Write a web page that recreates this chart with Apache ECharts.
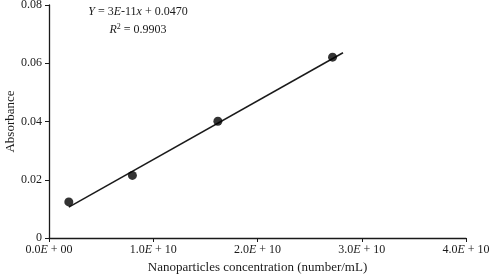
<!DOCTYPE html>
<html>
<head>
<meta charset="utf-8">
<script src="https://cdn.jsdelivr.net/npm/echarts@6/dist/echarts.min.js"></script>
<style>
  html, body { margin: 0; padding: 0; background: #fff; }
  #chart { width: 489px; height: 276px; }
</style>
</head>
<body>
<div id="chart"></div>
<script>
// 吸光度 vs 纳米颗粒浓度：散点 + 线性拟合线
const concentration = [1.9e9, 8.0e9, 1.62e10, 2.72e10]
const absorbance = [0.0124, 0.0215, 0.0401, 0.0621]
// 拟合线两端
const fitX = [1.9e9, 2.82e10]
const fitY = [0.0106, 0.0636]
const xTickLabels = ['0.0|00', '1.0|10', '2.0|10', '3.0|10', '4.0|10']

const FONT = '"Liberation Serif", "Times New Roman", serif'
const INK = '#1a1a1a'

const chart = echarts.init(document.getElementById('chart'), null, { renderer: 'canvas' })

chart.setOption({
  backgroundColor: '#fff',
  animation: false,
  grid: { left: 49, right: 23, top: 5, bottom: 38, outerBoundsMode: 'none', containLabel: false },
  xAxis: {
    type: 'value',
    min: 0,
    max: 4e10,
    interval: 1e10,
    name: 'Nanoparticles concentration (number/mL)',
    nameLocation: 'middle',
    nameGap: 23,
    nameMoveOverlap: false,
    nameTextStyle: { fontFamily: FONT, fontSize: 13, color: INK },
    axisLine: { lineStyle: { color: INK, width: 1.3 } },
    axisTick: { show: true, length: 4, lineStyle: { color: INK } },
    splitLine: { show: false },
    axisLabel: {
      margin: 6,
      formatter: (v) => {
        const [m, e] = xTickLabels[Math.round(v / 1e10)].split('|')
        return m + '{i|E} + ' + e
      },
      fontFamily: FONT,
      fontSize: 12,
      color: INK,
      rich: { i: { fontStyle: 'italic', fontFamily: FONT, fontSize: 12, color: INK } },
    },
  },
  yAxis: {
    type: 'value',
    min: 0,
    max: 0.08,
    interval: 0.02,
    name: 'Absorbance',
    nameLocation: 'middle',
    nameGap: 32,
    nameMoveOverlap: false,
    nameTextStyle: { fontFamily: FONT, fontSize: 13, color: INK },
    axisLine: { show: true, lineStyle: { color: INK, width: 1.3 } },
    axisTick: { show: true, length: 4, lineStyle: { color: INK } },
    splitLine: { show: false },
    axisLabel: {
      margin: 7,
      formatter: (v) => (v === 0 ? '0' : v.toFixed(2)),
      fontFamily: FONT,
      fontSize: 12,
      color: INK,
    },
  },
  graphic: [
    {
      type: 'text',
      x: 138,
      y: 12,
      style: {
        text: '{i|Y} = 3{i|E}-11{i|x} + 0.0470',
        fontFamily: FONT,
        fontSize: 12,
        fill: INK,
        align: 'center',
        verticalAlign: 'middle',
        rich: { i: { fontStyle: 'italic', fontFamily: FONT, fontSize: 12 } },
      },
    },
    {
      type: 'text',
      x: 138,
      y: 30,
      style: {
        text: '{i|R}{s|2} = 0.9903',
        fontFamily: FONT,
        fontSize: 12,
        fill: INK,
        align: 'center',
        verticalAlign: 'middle',
        rich: {
          i: { fontStyle: 'italic', fontFamily: FONT, fontSize: 12 },
          s: { fontFamily: FONT, fontSize: 8, verticalAlign: 'top', padding: [0, 0, 7, 0] },
        },
      },
    },
  ],
  series: [
    {
      type: 'line',
      data: fitX.map((x, i) => [x, fitY[i]]),
      symbol: 'none',
      lineStyle: { color: INK, width: 1.5 },
      z: 2,
    },
    {
      type: 'scatter',
      data: concentration.map((x, i) => [x, absorbance[i]]),
      symbol: 'circle',
      symbolSize: 9,
      itemStyle: { color: '#000' },
      z: 3,
    },
  ],
})
</script>
</body>
</html>
